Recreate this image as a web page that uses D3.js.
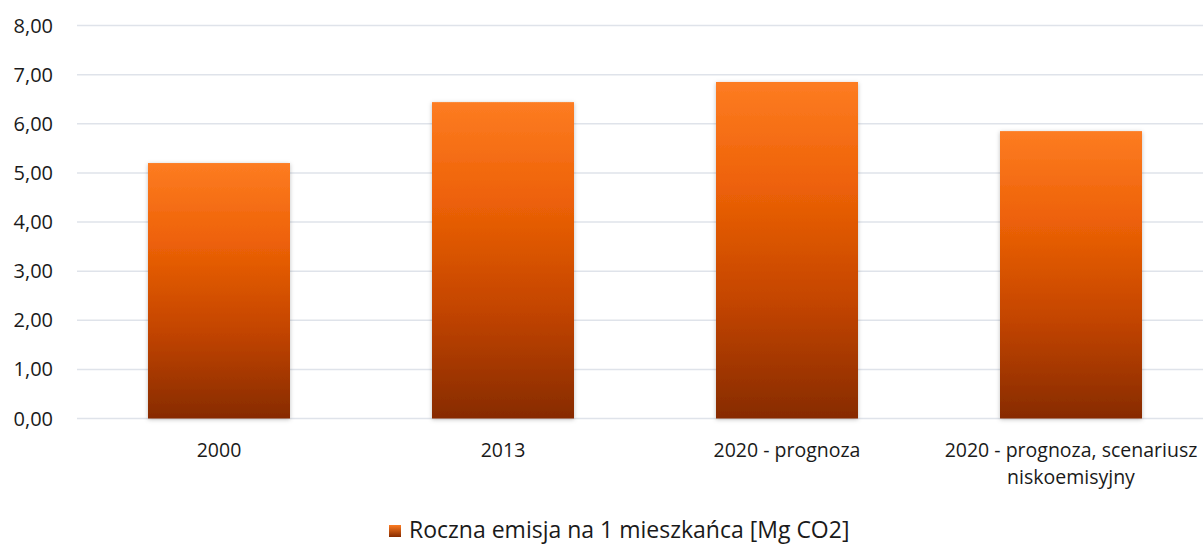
<!DOCTYPE html>
<html>
<head>
    <meta charset="utf-8">
</head>
<body>
    <style>
        body, html {
            margin: 0;
            padding: 0;
            background: #fff;
        }
        svg { display: block; }
        text { font-family: "Open Sans", sans-serif; fill: #1a1a1a; }
    </style>

    <svg width="1203" height="545"></svg>

    <script src="https://d3js.org/d3.v7.min.js"></script>

    <script>
        var categories = ["2000", "2013", "2020 - prognoza", "2020 - prognoza, scenariusz|niskoemisyjny"];
        var values = [5.20, 6.44, 6.85, 5.85];
        var yTicks = [0, 1, 2, 3, 4, 5, 6, 7, 8];
        var seriesName = "Roczna emisja na 1 mieszkańca [Mg CO2]";

        var svg = d3.select("svg");
        var plotLeft = 77, plotRight = 1213, plotTop = 25.5, plotBottom = 418.5;

        var x = d3.scaleBand().domain(categories).range([plotLeft, plotRight]).paddingInner(0.5).paddingOuter(0.25);
        var y = d3.scaleLinear().domain([0, 8]).range([plotBottom, plotTop]);

        var defs = svg.append("defs");
        var grad = defs.append("linearGradient")
            .attr("id", "barGrad").attr("x1", 0).attr("y1", 0).attr("x2", 0).attr("y2", 1);
        grad.append("stop").attr("offset", "0%").attr("stop-color", "#fd7c22");
        grad.append("stop").attr("offset", "30%").attr("stop-color", "#ee6208");
        grad.append("stop").attr("offset", "42%").attr("stop-color", "#e05904");
        grad.append("stop").attr("offset", "65%").attr("stop-color", "#c44502");
        grad.append("stop").attr("offset", "100%").attr("stop-color", "#872b00");

        var legGrad = defs.append("linearGradient")
            .attr("id", "legGrad").attr("x1", 0).attr("y1", 0).attr("x2", 0).attr("y2", 1);
        legGrad.append("stop").attr("offset", "0%").attr("stop-color", "#fd7c22");
        legGrad.append("stop").attr("offset", "100%").attr("stop-color", "#872b00");

        var shadow = defs.append("filter").attr("id", "shadow")
            .attr("x", "-10%").attr("y", "-10%").attr("width", "120%").attr("height", "120%");
        shadow.append("feDropShadow").attr("dx", 0).attr("dy", 1).attr("stdDeviation", 2)
            .attr("flood-color", "#000").attr("flood-opacity", 0.25);

        // GRID
        svg.append("g").selectAll("line").data(yTicks).join("line")
            .attr("x1", plotLeft).attr("x2", 1203)
            .attr("y1", function(d) { return y(d); })
            .attr("y2", function(d) { return y(d); })
            .attr("stroke", "#dfe3ea").attr("stroke-width", 1.5);

        // Y LABELS
        svg.append("g").selectAll("text").data(yTicks).join("text")
            .attr("x", 53).attr("y", function(d) { return y(d); })
            .attr("dy", "0.35em").attr("text-anchor", "end")
            .attr("font-size", 20)
            .text(function(d) { return d.toFixed(2).replace(".", ","); });

        // BARS
        svg.append("g").selectAll("rect").data(values).join("rect")
            .attr("x", function(d, i) { return x(categories[i]); })
            .attr("width", x.bandwidth())
            .attr("y", function(d) { return y(d); })
            .attr("height", function(d) { return y(0) - y(d); })
            .attr("fill", "url(#barGrad)")
            .attr("filter", "url(#shadow)");

        // X LABELS
        var xl = svg.append("g").selectAll("text").data(categories).join("text")
            .attr("x", function(d) { return x(d) + x.bandwidth() / 2; })
            .attr("y", 457)
            .attr("text-anchor", "middle")
            .attr("font-size", 19.5);
        xl.each(function(d) {
            var t = d3.select(this);
            d.split("|").forEach(function(line, i) {
                t.append("tspan")
                    .attr("x", x(d) + x.bandwidth() / 2)
                    .attr("dy", i === 0 ? 0 : 27)
                    .text(line);
            });
        });

        // LEGEND
        svg.append("rect").attr("x", 389).attr("y", 525).attr("width", 12).attr("height", 12)
            .attr("fill", "url(#legGrad)");
        svg.append("text").attr("x", 409).attr("y", 538).attr("font-size", 23).text(seriesName);
    </script>
</body>
</html>
